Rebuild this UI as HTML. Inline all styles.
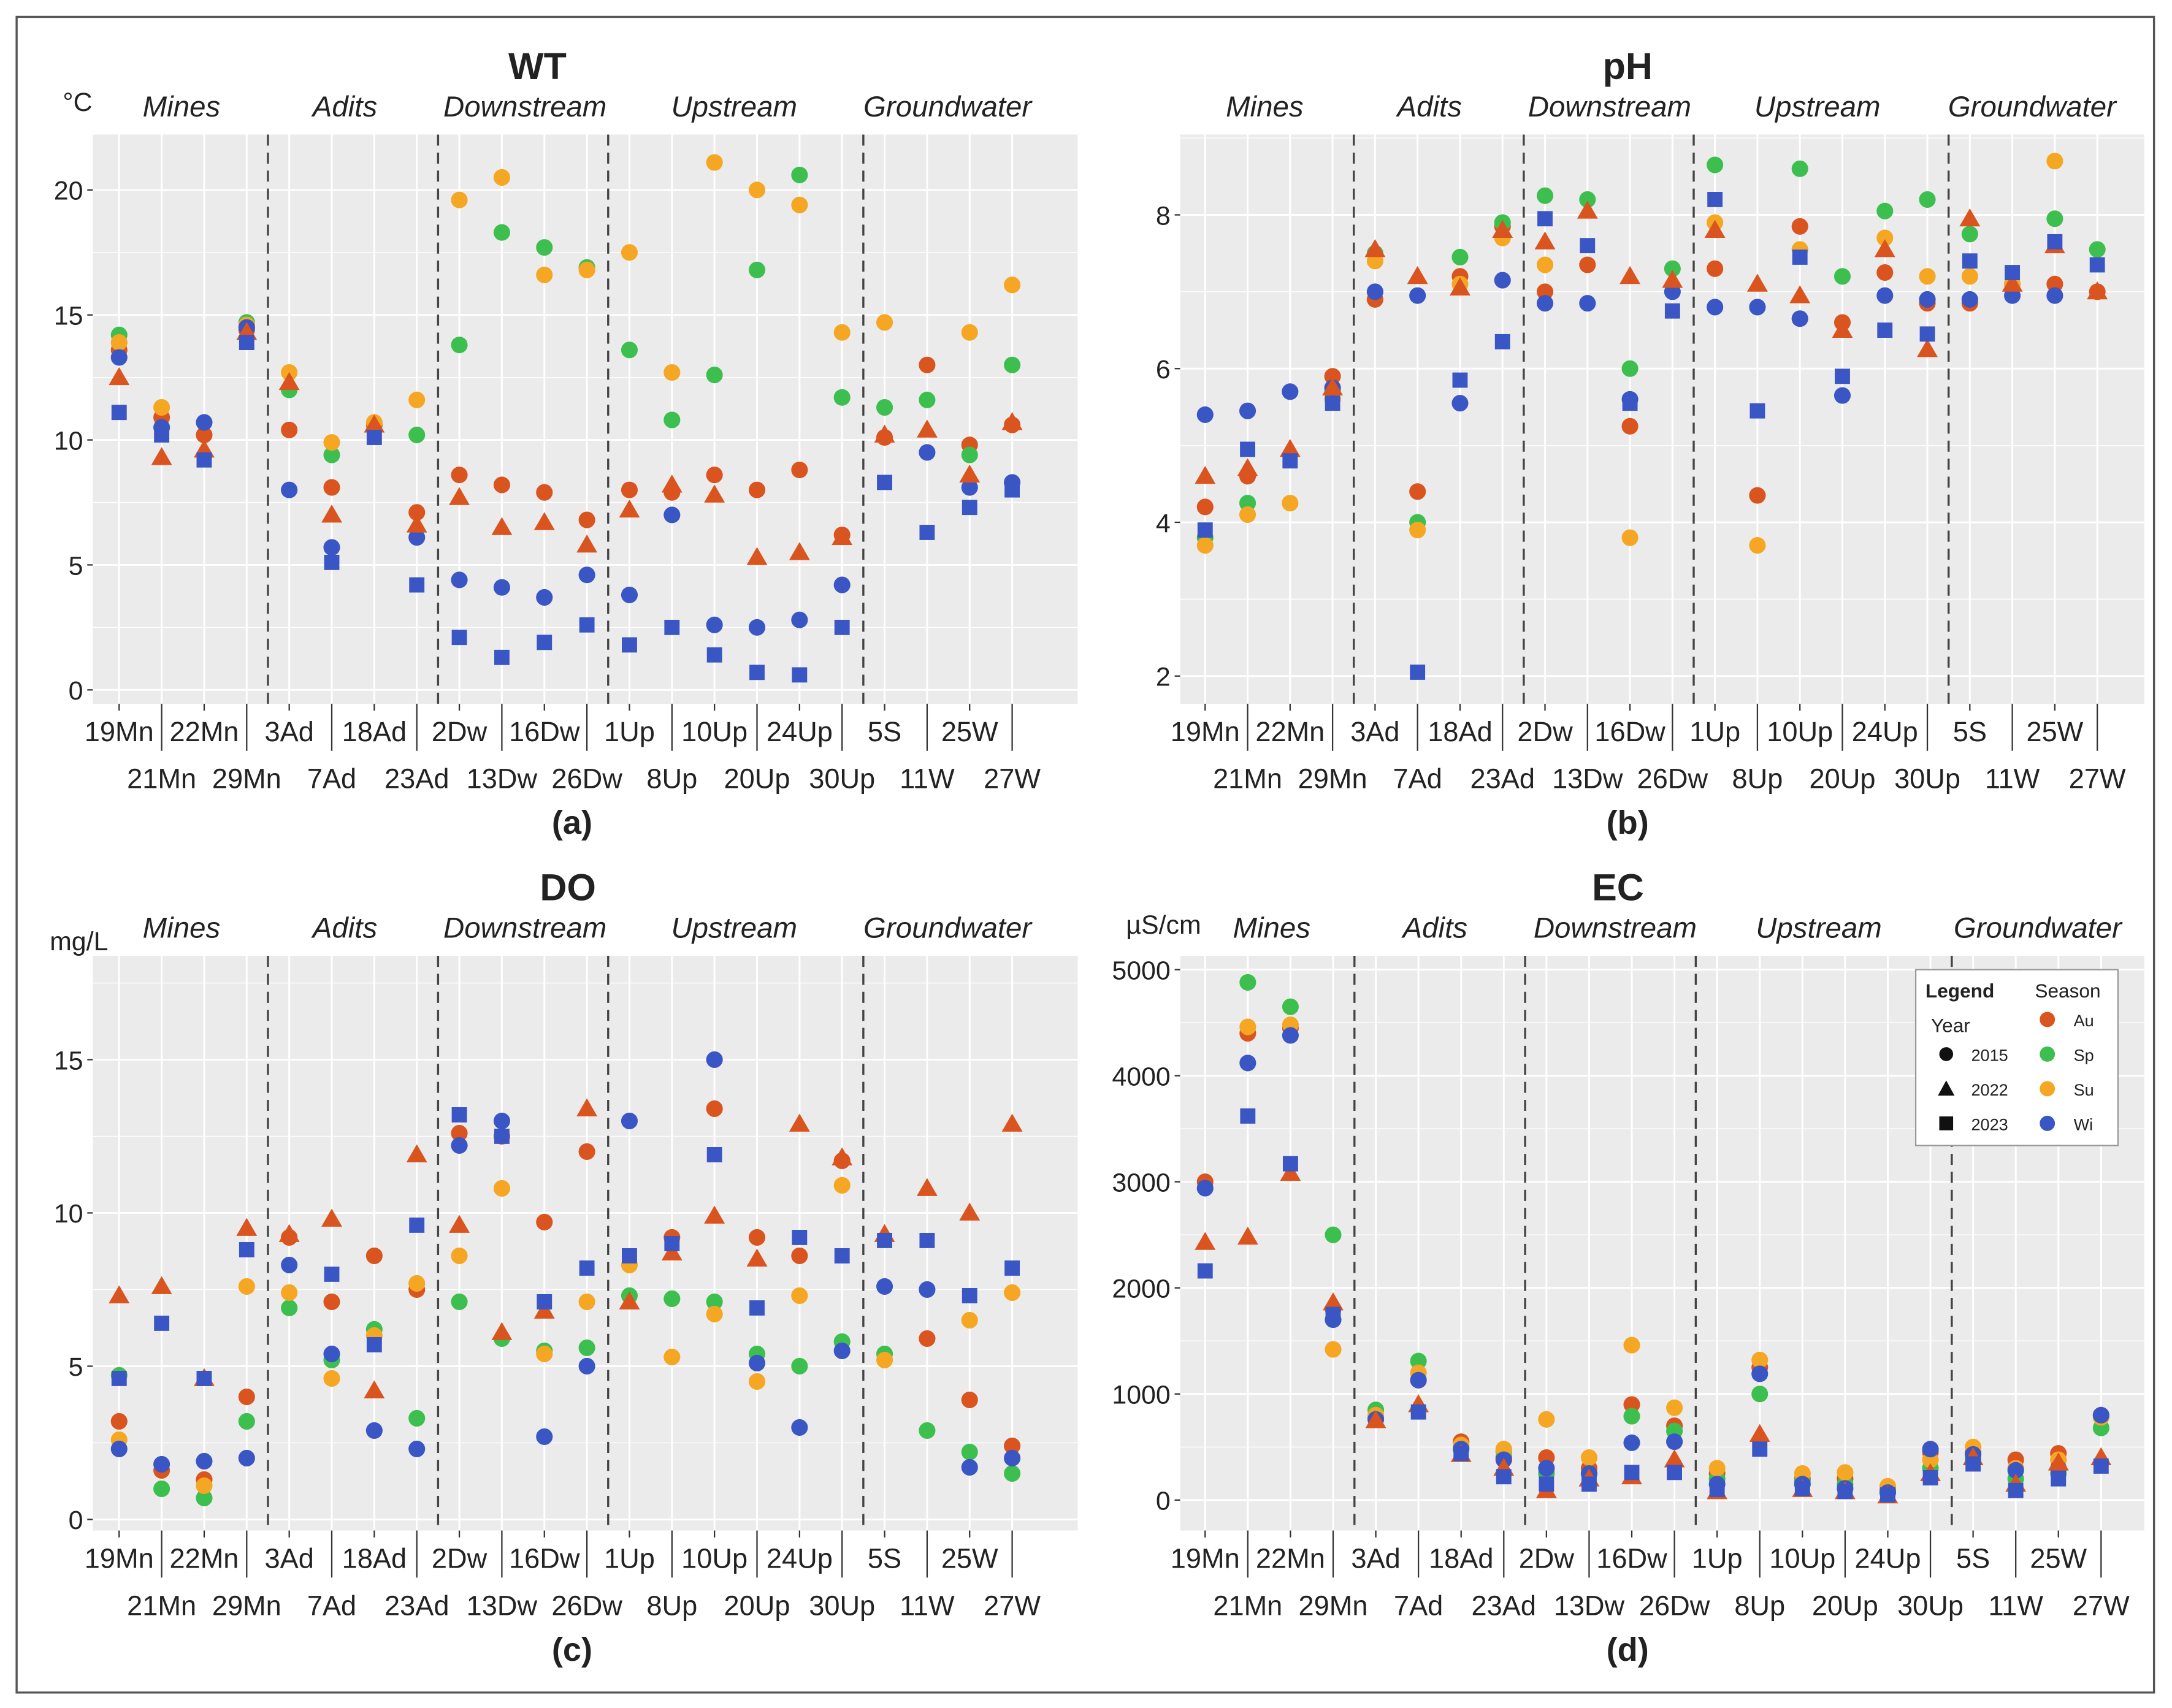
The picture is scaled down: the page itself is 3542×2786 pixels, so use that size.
<!DOCTYPE html>
<html><head><meta charset="utf-8"><style>
html,body{margin:0;padding:0;background:#fff}
svg{display:block}
text{font-family:"Liberation Sans",sans-serif;fill:#222}
</style></head><body>
<svg id="chart" xmlns="http://www.w3.org/2000/svg" width="3542" height="2786" viewBox="0 0 1568 1233">
<rect x="0" y="0" width="1568" height="1233" fill="#fff"/>
<rect x="12" y="12" width="1543" height="1210" fill="none" stroke="#555" stroke-width="1.5"/>
</svg>
<script>
const categories=["19Mn","21Mn","22Mn","29Mn","3Ad","7Ad","18Ad","23Ad","2Dw","13Dw","16Dw","26Dw","1Up","8Up","10Up","20Up","24Up","30Up","5S","11W","25W","27W"];
const groupNames=["Mines","Adits","Downstream","Upstream","Groundwater"];
const n=null;
// WT
const wtAu15=[13.6,10.9,10.2,14.4,10.4,8.1,10.6,7.1,8.6,8.2,7.9,6.8,8.0,7.9,8.6,8.0,8.8,6.2,10.1,13.0,9.8,10.6];
const wtSp15=[14.2,n,n,14.7,12.0,9.4,n,10.2,13.8,18.3,17.7,16.9,13.6,10.8,12.6,16.8,20.6,11.7,11.3,11.6,9.4,13.0];
const wtSu15=[13.9,11.3,n,14.6,12.7,9.9,10.7,11.6,19.6,20.5,16.6,16.8,17.5,12.7,21.1,20.0,19.4,14.3,14.7,n,14.3,16.2];
const wtWi15=[13.3,10.5,10.7,14.5,8.0,5.7,n,6.1,4.4,4.1,3.7,4.6,3.8,7.0,2.6,2.5,2.8,4.2,n,9.5,8.1,8.3];
const wtAu22=[12.5,9.3,9.6,14.3,12.3,7.0,10.6,6.6,7.7,6.5,6.7,5.8,7.2,8.2,7.8,5.3,5.5,6.1,10.2,10.4,8.6,10.7];
const wtWi23=[11.1,10.2,9.2,13.9,n,5.1,10.1,4.2,2.1,1.3,1.9,2.6,1.8,2.5,1.4,0.7,0.6,2.5,8.3,6.3,7.3,8.0];
// pH
const phAu15=[4.2,4.6,n,5.9,6.9,4.4,7.2,7.85,7.0,7.35,5.25,n,7.3,4.35,7.85,6.6,7.25,6.85,6.85,n,7.1,7.0];
const phSp15=[3.8,4.25,n,5.7,7.5,4.0,7.45,7.9,8.25,8.2,6.0,7.3,8.65,n,8.6,7.2,8.05,8.2,7.75,7.1,7.95,7.55];
const phSu15=[3.7,4.1,4.25,5.6,7.4,3.9,7.1,7.7,7.35,n,3.8,n,7.9,3.7,7.55,n,7.7,7.2,7.2,7.1,8.7,n];
const phWi15=[5.4,5.45,5.7,5.75,7.0,6.95,5.55,7.15,6.85,6.85,5.6,7.0,6.8,6.8,6.65,5.65,6.95,6.9,6.9,6.95,6.95,n];
const phAu22=[4.6,4.7,4.95,5.75,7.55,7.2,7.05,7.8,7.65,8.05,7.2,7.15,7.8,7.1,6.95,6.5,7.55,6.25,7.95,7.1,7.6,7.0];
const phWi23=[3.9,4.95,4.8,5.55,n,2.05,5.85,6.35,7.95,7.6,5.55,6.75,8.2,5.45,7.45,5.9,6.5,6.45,7.4,7.25,7.65,7.35];
// DO
const doAu15=[3.2,1.6,1.3,4.0,9.2,7.1,8.6,7.5,12.6,12.5,9.7,12.0,n,9.2,13.4,9.2,8.6,11.7,n,5.9,3.9,2.4];
const doSp15=[4.7,1.0,0.7,3.2,6.9,5.2,6.2,3.3,7.1,5.9,5.5,5.6,7.3,7.2,7.1,5.4,5.0,5.8,5.4,2.9,2.2,1.5];
const doSu15=[2.6,n,1.1,7.6,7.4,4.6,6.0,7.7,8.6,10.8,5.4,7.1,8.3,5.3,6.7,4.5,7.3,10.9,5.2,n,6.5,7.4];
const doWi15=[2.3,1.8,1.9,2.0,8.3,5.4,2.9,2.3,12.2,13.0,2.7,5.0,13.0,n,15.0,5.1,3.0,5.5,7.6,7.5,1.7,2.0];
const doAu22=[7.3,7.6,4.6,9.5,9.3,9.8,4.2,11.9,9.6,6.1,6.8,13.4,7.1,8.7,9.9,8.5,12.9,11.8,9.3,10.8,10.0,12.9];
const doWi23=[4.6,6.4,4.6,8.8,n,8.0,5.7,9.6,13.2,12.5,7.1,8.2,8.6,9.0,11.9,6.9,9.2,8.6,9.1,9.1,7.3,8.2];
// EC
const ecAu15=[3000,4400,4450,1800,780,1130,550,400,400,300,900,700,250,1250,200,200,100,450,450,380,440,800];
const ecSp15=[n,4880,4650,2500,850,1310,500,460,250,250,790,650,200,1000,180,150,90,300,380,200,250,680];
const ecSu15=[n,4460,4480,1420,800,1200,520,480,760,400,1460,870,300,1320,250,260,130,380,500,300,380,780];
const ecWi15=[2940,4120,4380,1700,760,1130,480,380,300,250,540,550,150,1190,150,110,70,480,430,280,300,800];
const ecAu22=[2430,2480,3080,1860,750,900,430,300,90,200,220,380,80,620,100,80,40,250,400,150,350,400];
const ecWi23=[2160,3620,3170,1750,n,830,440,220,150,150,260,260,100,480,110,80,50,210,340,90,200,320];

const COL={Au:"#d9541e",Sp:"#3dbf4f",Su:"#f5a623",Wi:"#3a55c4"};
const NS="http://www.w3.org/2000/svg";
const svg=document.getElementById("chart");
function mk(tag,attrs,parent){const e=document.createElementNS(NS,tag);for(const k in attrs)e.setAttribute(k,attrs[k]);(parent||svg).appendChild(e);return e;}
function txt(s,attrs,parent){const e=mk("text",attrs,parent);e.textContent=s;return e;}

function panel(cfg){
  const g=mk("g",{});
  
  
  const L=cfg.left,R=cfg.right,T=cfg.top,B=cfg.bottom;
  const yScale=v=>cfg.y0+(v-0)*(cfg.y1px-cfg.y0)/cfg.y1val;
  const xScale=i=>cfg.x0+i*cfg.step;
  const bg=mk("rect",{x:L,y:T,width:R-L,height:B-T,fill:"#ebebeb"},g);
  
  
  // minor grid
  cfg.minor.forEach(v=>{const y=yScale(v);if(y>T&&y<B)mk("line",{x1:L,x2:R,y1:y,y2:y,stroke:"#fff","stroke-width":0.6},g);});
  cfg.ticks.forEach(v=>{const y=yScale(v);
    const l=mk("line",{x1:L,x2:R,y1:y,y2:y,stroke:"#fff","stroke-width":1.3},g);
    
    
    mk("line",{x1:L-4,x2:L,y1:y,y2:y,stroke:"#333","stroke-width":1},g);
    const t=txt(String(v),{x:L-7,y:y+7,"font-size":19,"text-anchor":"end",fill:"#333"},g);
    
    
  });
  categories.forEach((c,i)=>{const x=xScale(i);
    mk("line",{x1:x,x2:x,y1:T,y2:B,stroke:"#fff","stroke-width":1.3},g);
    const odd=i%2===1;
    mk("line",{x1:x,x2:x,y1:B,y2:B+(odd?34:5),stroke:"#333","stroke-width":1},g);
    const t=txt(c,{x:x,y:odd?B+61:B+27,"font-size":20,"text-anchor":"middle",fill:"#222"},g);
    
    
  });
  // dashed separators
  [3,7,11,17].forEach(i=>{const x=xScale(i+0.5);
    const d=mk("line",{x1:x,x2:x,y1:T,y2:B,stroke:"#444","stroke-width":1.5,"stroke-dasharray":"8,5"},g);
    
    
  });
  // group labels
  const gc=[1.5,5.5,9.5,14.5,19.5];
  groupNames.forEach((s,k)=>{let x=xScale(gc[k]);if(cfg.groupX)x=cfg.groupX[k];
    const t=txt(s,{x:x,y:T-13,"font-size":21,"font-style":"italic","text-anchor":"middle"},g);
    
    
  });
  const ti=txt(cfg.title,{x:cfg.titleX,y:T-40,"font-size":27,"font-weight":"bold","text-anchor":"middle"},g);
  
  
  const un=txt(cfg.unit,{x:cfg.unitX,y:cfg.unitY,"font-size":19,"text-anchor":"middle"},g);
  
  
  const lb=txt(cfg.label,{x:cfg.titleX+(cfg.labelDx||0),y:B+94,"font-size":24,"font-weight":"bold","text-anchor":"middle"},g);
  
  
  // series
  const series=[[cfg.s[0],"circle","Au"],[cfg.s[1],"circle","Sp"],[cfg.s[2],"circle","Su"],[cfg.s[3],"circle","Wi"],[cfg.s[4],"tri","Au"],[cfg.s[5],"sq","Wi"]];
  series.forEach(([arr,shape,season])=>{
    arr.forEach((v,i)=>{ if(v===null)return;
      const x=xScale(i),y=yScale(v);let e;
      if(shape==="circle") e=mk("circle",{cx:x,cy:y,r:6,fill:COL[season]},g);
      else if(shape==="tri") e=mk("polygon",{points:`${x},${y-7.5} ${x-7.5},${y+5.5} ${x+7.5},${y+5.5}`,fill:COL[season]},g);
      else e=mk("rect",{x:x-5.5,y:y-5.5,width:11,height:11,fill:COL[season]},g);
      
      
    });
  });
}
panel({name:"wt",title:"WT",titleX:388,label:"(a)",labelDx:25,unit:"°C",unitX:56,unitY:80,left:67,right:778,top:97,bottom:508,x0:86,step:30.7,y0:498,y1px:137,y1val:20,ticks:[0,5,10,15,20],minor:[2.5,7.5,12.5,17.5,22.5],s:[wtAu15,wtSp15,wtSu15,wtWi15,wtAu22,wtWi23],groupX:[131,249,379,530,684]});
panel({name:"ph",title:"pH",titleX:1175,label:"(b)",unit:"",unitX:0,unitY:0,left:852,right:1548,top:97,bottom:508,x0:870,step:30.67,y0:488+2*55.5,y1px:155,y1val:8,ticks:[2,4,6,8],minor:[3,5,7,9],s:[phAu15,phSp15,phSu15,phWi15,phAu22,phWi23],groupX:[913,1032,1162,1312,1467]});
panel({name:"do",title:"DO",titleX:410,label:"(c)",labelDx:3,unit:"mg/L",unitX:57,unitY:686,left:67,right:778,top:690,bottom:1105,x0:86,step:30.7,y0:1097,y1px:765,y1val:15,ticks:[0,5,10,15],minor:[2.5,7.5,12.5,17.5],s:[doAu15,doSp15,doSu15,doWi15,doAu22,doWi23],groupX:[131,249,379,530,684]});
panel({name:"ec",title:"EC",titleX:1168,label:"(d)",labelDx:7,unit:"µS/cm",unitX:840,unitY:674,left:852,right:1548,top:690,bottom:1105,x0:870,step:30.8,y0:1083,y1px:700,y1val:5000,ticks:[0,1000,2000,3000,4000,5000],minor:[500,1500,2500,3500,4500],s:[ecAu15,ecSp15,ecSu15,ecWi15,ecAu22,ecWi23],groupX:[918,1036,1166,1313,1471]});

// legend
const lg=mk("g",{});


mk("rect",{x:1383,y:700,width:146,height:127,fill:"#fff",stroke:"#999","stroke-width":1},lg);
txt("Legend",{x:1390,y:720,"font-size":14,"font-weight":"bold"},lg);
txt("Season",{x:1469,y:720,"font-size":14},lg);
txt("Year",{x:1394,y:745,"font-size":14},lg);
const yrs=["2015","2022","2023"];
yrs.forEach((s,k)=>{const y=761+k*25;let e;
  if(k===0)e=mk("circle",{cx:1405,cy:y,r:5,fill:"#111"},lg);
  else if(k===1)e=mk("polygon",{points:`1405,${y-6} 1399,${y+5} 1411,${y+5}`,fill:"#111"},lg);
  else e=mk("rect",{x:1400,y:y-5,width:10,height:10,fill:"#111"},lg);
  
  
  const t=txt(s,{x:1423,y:y+5,"font-size":12},lg);
  
  
});
["Au","Sp","Su","Wi"].forEach((s,k)=>{const y=736+k*25;
  const c=mk("circle",{cx:1478,cy:y,r:5.5,fill:COL[s]},lg);
  
  
  const t=txt(s,{x:1497,y:y+5,"font-size":12},lg);
  
  
});
</script>
</body></html>
